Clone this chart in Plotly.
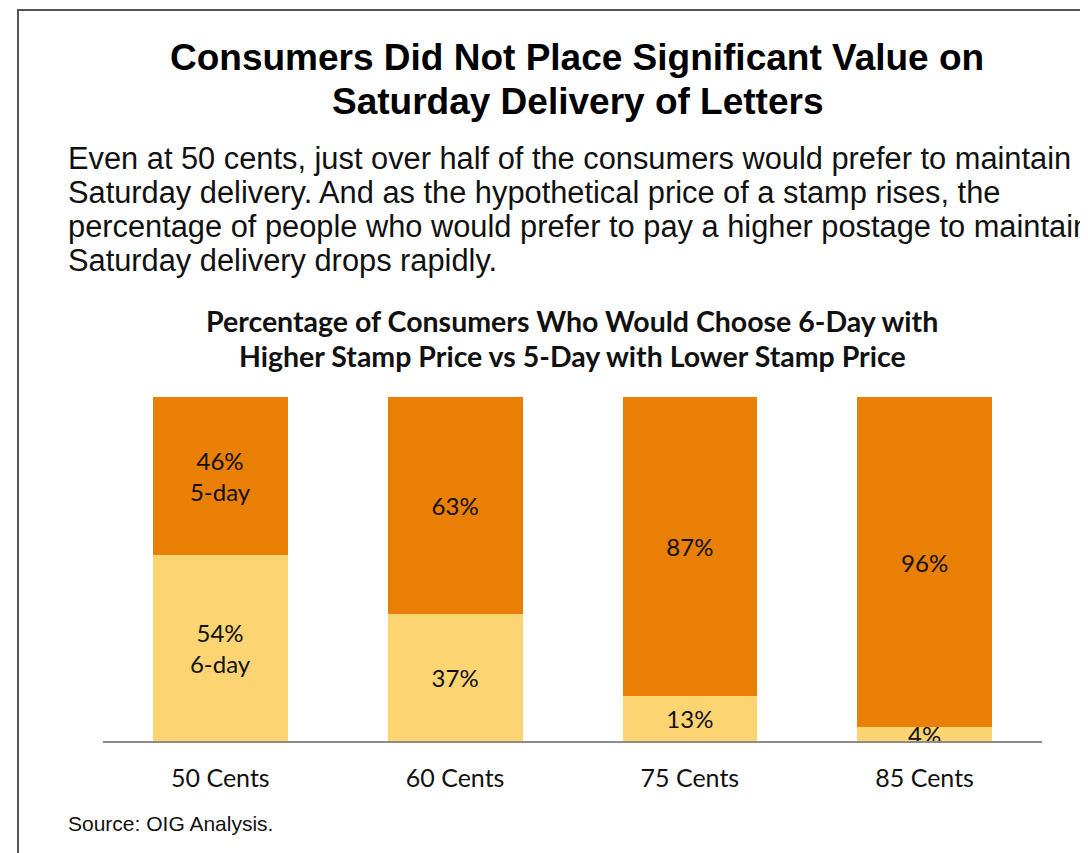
import plotly.graph_objects as go

categories = ["50 Cents", "60 Cents", "75 Cents", "85 Cents"]
six_day = [54, 37, 13, 4]
five_day = [46, 63, 87, 96]
six_day_labels = ["54%<br>6-day", "37%", "13%", "4%"]
five_day_labels = ["46%<br>5-day", "63%", "87%", "96%"]

title_lines = ["Consumers Did Not Place Significant Value on", "Saturday Delivery of Letters"]
body_lines = [
    "Even at 50 cents, just over half of the consumers would prefer to maintain",
    "Saturday delivery. And as the hypothetical price of a stamp rises, the",
    "percentage of people who would prefer to pay a higher postage to maintain",
    "Saturday delivery drops rapidly.",
]
chart_title_lines = [
    "Percentage of Consumers Who Would Choose 6-Day with",
    "Higher Stamp Price vs 5-Day with Lower Stamp Price",
]
source_text = "Source: OIG Analysis."

W, H = 1088, 853
OFF = 8  # page body margin
# plot area in screen pixels
SL, SR, ST, SB = 103, 1042, 397, 741
L, R, T, B = SL - OFF, SR - OFF, ST - OFF, SB - OFF


def px(xs):
    return (xs - OFF - L) / (R - L)


def py(ys):
    return (B - (ys - OFF)) / (B - T)


CAL = "Lato, Carlito, Calibri, sans-serif"
ARI = "Liberation Sans, Arial, sans-serif"

fig = go.Figure()
fig.add_trace(go.Bar(
    x=categories, y=six_day, name="6-day", marker=dict(color="#FDD472", line=dict(width=0)),
    text=six_day_labels, textposition="inside", insidetextanchor="middle", textangle=0,
    textfont=dict(family=CAL, size=24, color="#111111"), hoverinfo="skip",
))
fig.add_trace(go.Bar(
    x=categories, y=five_day, name="5-day", marker=dict(color="#E97F05", line=dict(width=0)),
    text=five_day_labels, textposition="inside", insidetextanchor="middle", textangle=0,
    textfont=dict(family=CAL, size=24, color="#111111"), hoverinfo="skip",
))

annotations = []
for i, line in enumerate(title_lines):
    annotations.append(dict(text="<b>%s</b>" % line, x=px(577), y=py(57 + 44 * i), xref="paper", yref="paper",
                            xanchor="center", yanchor="middle", showarrow=False,
                            font=dict(family=ARI, size=37, color="#000000")))
for i, line in enumerate(body_lines):
    annotations.append(dict(text=line, x=px(66), y=py(158 + 34 * i), xref="paper", yref="paper",
                            xanchor="left", yanchor="middle", showarrow=False,
                            font=dict(family=ARI, size=30.8, color="#111111")))
for i, line in enumerate(chart_title_lines):
    annotations.append(dict(text="<b>%s</b>" % line, x=px(572), y=py(321 + 35 * i), xref="paper", yref="paper",
                            xanchor="center", yanchor="middle", showarrow=False,
                            font=dict(family=CAL, size=28.5, color="#111111")))
annotations.append(dict(text=source_text, x=px(66), y=py(823), xref="paper", yref="paper",
                        xanchor="left", yanchor="middle", showarrow=False,
                        font=dict(family=ARI, size=21, color="#111111")))

shapes = [
    dict(type="line", xref="paper", yref="paper", x0=px(2), x1=px(2), y0=py(-5), y1=py(870),
         line=dict(color="#666666", width=2)),
    dict(type="rect", xref="paper", yref="paper", x0=px(18), x1=px(1110), y0=py(880), y1=py(10),
         line=dict(color="#555555", width=2), fillcolor="rgba(0,0,0,0)", layer="below"),
]

fig.update_layout(
    width=W, height=H,
    margin=dict(l=L, r=W - R, t=T, b=H - B, pad=0),
    barmode="stack", bargap=0.426,
    showlegend=False,
    plot_bgcolor="white", paper_bgcolor="white",
    annotations=annotations, shapes=shapes,
    uniformtext=dict(minsize=24, mode="show"),
    xaxis=dict(showgrid=False, showline=True, linecolor="#8C8C8C", linewidth=1.5, ticks="",
               tickfont=dict(family=CAL, size=25, color="#111111"), ticklabelstandoff=14),
    yaxis=dict(range=[0, 100], visible=False, showgrid=False, zeroline=False),
)
fig.write_html("out.html")
